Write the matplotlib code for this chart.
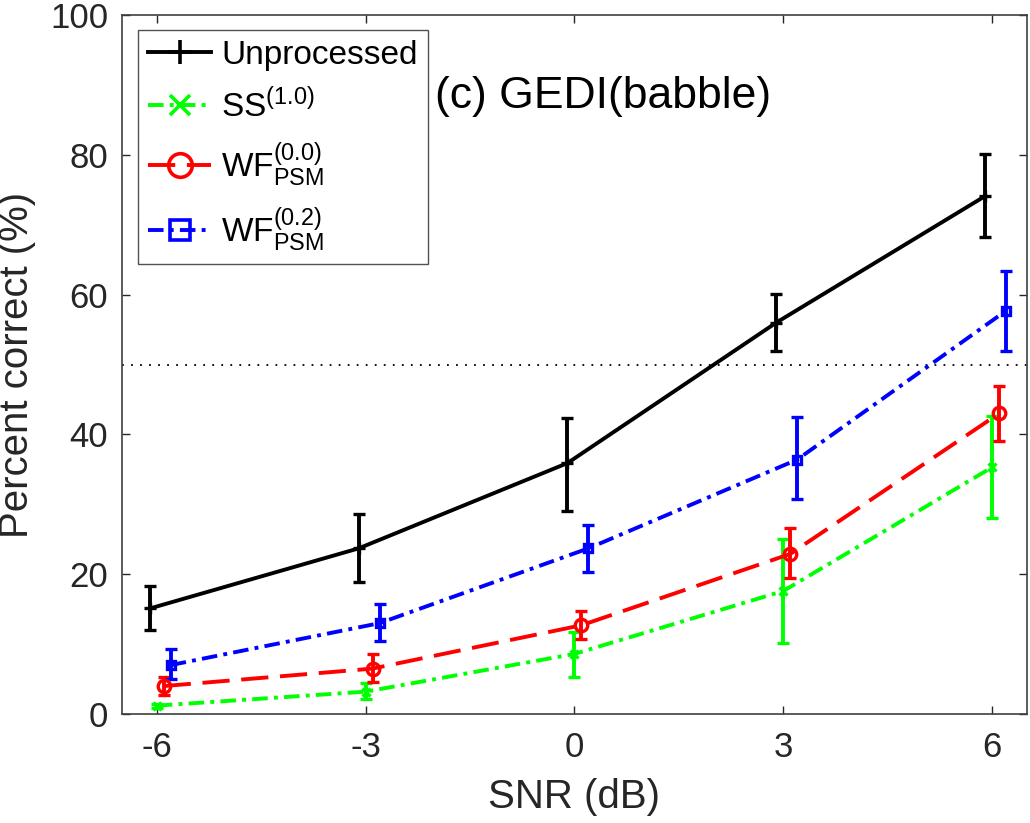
import matplotlib
matplotlib.use("Agg")
import matplotlib.pyplot as plt
from matplotlib.lines import Line2D
import numpy as np

plt.rcParams["font.family"] = ["Liberation Sans", "DejaVu Sans"]
plt.rcParams["mathtext.fontset"] = "custom"
plt.rcParams["mathtext.rm"] = "Liberation Sans"
plt.rcParams["mathtext.it"] = "Liberation Sans"
plt.rcParams["mathtext.default"] = "regular"

snr = np.array([-6, -3, 0, 3, 6])

unproc = [15.1, 23.7, 35.9, 56.0, 74.1]
unproc_lo = [12.0, 18.9, 29.0, 51.9, 68.3]
unproc_hi = [18.3, 28.6, 42.4, 60.1, 80.1]

ss = [1.2, 3.2, 8.6, 17.6, 35.3]
ss_lo = [0.9, 2.1, 5.3, 10.2, 28.1]
ss_hi = [1.5, 4.4, 11.8, 25.0, 42.7]

wf00 = [4.0, 6.5, 12.7, 22.9, 43.0]
wf00_lo = [2.7, 4.6, 10.7, 19.4, 39.0]
wf00_hi = [5.3, 8.6, 14.7, 26.6, 46.9]

wf02 = [7.0, 13.0, 23.7, 36.4, 57.7]
wf02_lo = [5.0, 10.4, 20.3, 30.7, 52.0]
wf02_hi = [9.3, 15.8, 27.1, 42.5, 63.4]

dashdot = (0, (4, 1.6, 1, 1.6))

# label, mean, lower, upper, x offset, colour, linestyle, marker, marker size (plot), marker size (legend)
series = [
    ("Unprocessed", unproc, unproc_lo, unproc_hi, -0.1, "black", "-", "+", 9, 17),
    ("SS$^{(1.0)}$", ss, ss_lo, ss_hi, 0.0, "#00ff00", dashdot, "x", 6, 15),
    ("WF$^{(0.0)}_{PSM}$", wf00, wf00_lo, wf00_hi, 0.1, "red", (0, (7, 3)), "o", 9, 17),
    ("WF$^{(0.2)}_{PSM}$", wf02, wf02_lo, wf02_hi, 0.2, "blue", dashdot, "s", 6, 15),
]

fig = plt.figure(figsize=(10.3, 8.23), dpi=100)
ax = fig.add_axes([0.1184, 0.1324, 0.8786, 0.8493])

handles = []
for label, y, lo, hi, off, color, ls, mk, ms, lms in series:
    y = np.array(y)
    err = [y - np.array(lo), np.array(hi) - y]
    ax.errorbar(snr + off, y, yerr=err, color=color, linestyle=ls, linewidth=2.8,
                marker=mk, markersize=ms, markeredgewidth=2.4, markerfacecolor="none",
                elinewidth=2.8, capsize=4.5, capthick=2.8)
    handles.append(Line2D([], [], color=color, linestyle=ls, linewidth=2.8, marker=mk,
                          markersize=lms, markeredgewidth=2.6, markerfacecolor="none",
                          label=label))

ax.axhline(50, color="black", linestyle=(0, (1, 4)), linewidth=1.3)

ax.set_xlim(-6.5, 6.5)
ax.set_ylim(0, 100)
ax.set_xticks(snr)
ax.set_xticklabels([str(v) for v in snr])
ax.set_yticks([0, 20, 40, 60, 80, 100])
ax.tick_params(direction="in", length=5.5, width=1, labelsize=25, colors="#262626",
               top=True, right=True, pad=10)
ax.tick_params(axis="x", pad=12)
for sp in ax.spines.values():
    sp.set_color("#404040")
    sp.set_linewidth(1.2)
ax.set_xlabel("SNR (dB)", fontsize=29, color="#262626", labelpad=10)
ax.set_ylabel("Percent correct (%)", fontsize=29, color="#262626", labelpad=10)

ax.text(-2.0, 88.3, "(c) GEDI(babble)", fontsize=32, va="center", ha="left")

leg = ax.legend(handles=handles, loc="upper left", bbox_to_anchor=(0.0177, 0.9785),
                borderaxespad=0, fontsize=24, frameon=True, fancybox=False,
                edgecolor="#262626", handlelength=1.9, handletextpad=0.3,
                labelspacing=0.5, borderpad=0.3)
leg.get_frame().set_linewidth(1)

fig.savefig("out.png", dpi=100)
